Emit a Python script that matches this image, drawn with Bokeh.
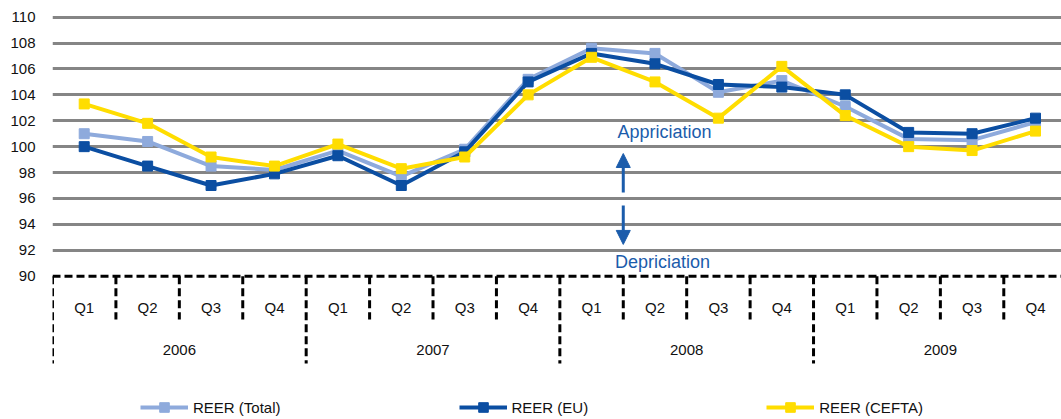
from bokeh.plotting import figure
from bokeh.models import (FixedTicker, Range1d, Legend, LegendItem, Arrow, NormalHead,
                          ColumnDataSource)
from bokeh.core.properties import value
from bokeh.embed import file_html
from bokeh.resources import INLINE

years = ["2006", "2007", "2008", "2009"]
quarters = ["Q1", "Q2", "Q3", "Q4"]
reer_total = [101.0, 100.4, 98.5, 98.2, 99.7, 97.7, 99.8, 105.2,
              107.6, 107.2, 104.2, 105.1, 103.1, 100.6, 100.5, 101.9]
reer_eu = [100.0, 98.5, 97.0, 97.9, 99.3, 97.0, 99.6, 105.0,
           107.2, 106.4, 104.8, 104.6, 104.0, 101.1, 101.0, 102.2]
reer_cefta = [103.3, 101.8, 99.2, 98.5, 100.2, 98.3, 99.2, 104.0,
              106.9, 105.0, 102.2, 106.2, 102.4, 100.0, 99.7, 101.2]
y_ticks = [90, 92, 94, 96, 98, 100, 102, 104, 106, 108, 110]

FONT = "Liberation Sans"
C_TOTAL = "#8EAADC"
C_EU = "#0B4EA2"
C_CEFTA = "#FFDD00"
C_NOTE = "#1B5CAB"

n = len(years) * len(quarters)
xs = [i + 0.5 for i in range(n)]

p = figure(width=1061, height=419, output_backend="svg", toolbar_location=None,
           x_axis_location=None, y_axis_location="left",
           x_range=Range1d(0, 15.91), y_range=Range1d(78.93, 110.36),
           min_border_left=52, min_border_right=0, min_border_top=12, min_border_bottom=0)
p.outline_line_color = None
p.background_fill_color = "white"
p.xgrid.visible = False
p.ygrid.ticker = FixedTicker(ticks=y_ticks[1:])
p.ygrid.grid_line_color = "#858585"
p.ygrid.grid_line_width = 3

ax = p.yaxis[0]
ax.ticker = FixedTicker(ticks=y_ticks)
ax.axis_line_color = None
ax.major_tick_line_color = None
ax.minor_tick_line_color = None
ax.major_tick_out = 0
ax.major_label_standoff = 17
ax.major_label_text_font = FONT
ax.major_label_text_font_size = "15px"
ax.major_label_text_color = "#111111"

# category axis drawn by hand (dashed frame)
y_base = 90
y_qtick = 86.66
y_ytick = 83.26
p.segment(x0=[0], y0=[y_base], x1=[n + 0.5], y1=[y_base], line_color="black",
          line_width=3, line_dash="8 4")
qb = [i for i in range(1, n) if i % len(quarters) != 0]
p.segment(x0=qb, y0=[y_base] * len(qb), x1=qb, y1=[y_qtick] * len(qb),
          line_color="black", line_width=3, line_dash="8 4")
yb = [i * len(quarters) for i in range(len(years) + 1)]
p.segment(x0=yb, y0=[y_base] * len(yb), x1=yb, y1=[y_ytick] * len(yb),
          line_color="black", line_width=3, line_dash="8 4")
qlabels = [q for _ in years for q in quarters]
p.text(x=xs, y=[87.6] * n, text=qlabels, text_align="center", text_baseline="middle",
       text_font=value(FONT), text_font_size="15px", text_color="#111111")
p.text(x=[i * 4 + 2 for i in range(len(years))], y=[84.26] * len(years), text=years,
       text_align="center", text_baseline="middle",
       text_font=value(FONT), text_font_size="15px", text_color="#111111")

# series
rends = {}
for name, vals, col in [("REER (Total)", reer_total, C_TOTAL),
                        ("REER (EU)", reer_eu, C_EU),
                        ("REER (CEFTA)", reer_cefta, C_CEFTA)]:
    src = ColumnDataSource(dict(x=xs, y=vals))
    l = p.line("x", "y", source=src, line_color=col, line_width=4)
    s = p.scatter("x", "y", source=src, marker="square", size=10,
                  fill_color=col, line_color=col)
    rends[name] = [l, s]

# annotations
p.add_layout(Arrow(end=NormalHead(size=14, fill_color=C_NOTE, line_color=C_NOTE),
                   x_start=9.0, y_start=96.46, x_end=9.0, y_end=99.47,
                   line_color=C_NOTE, line_width=3))
p.add_layout(Arrow(end=NormalHead(size=14, fill_color=C_NOTE, line_color=C_NOTE),
                   x_start=9.0, y_start=95.46, x_end=9.0, y_end=92.45,
                   line_color=C_NOTE, line_width=3))
p.text(x=[9.65, 9.62], y=[101.1, 91.13], text=["Appriciation", "Depriciation"],
       text_align="center", text_baseline="middle", text_font=value(FONT),
       text_font_size="18px", text_color=C_NOTE)

legend = Legend(items=[LegendItem(label=k, renderers=v) for k, v in rends.items()],
                orientation="horizontal", location=(88, 0),
                glyph_width=48, glyph_height=24, label_standoff=5, spacing=178,
                padding=0, margin=0, label_text_font=FONT, label_text_font_size="15px",
                label_text_color="#111111", background_fill_alpha=0, border_line_alpha=0)
p.add_layout(legend)

open("out.html", "w").write(file_html(p, INLINE))
